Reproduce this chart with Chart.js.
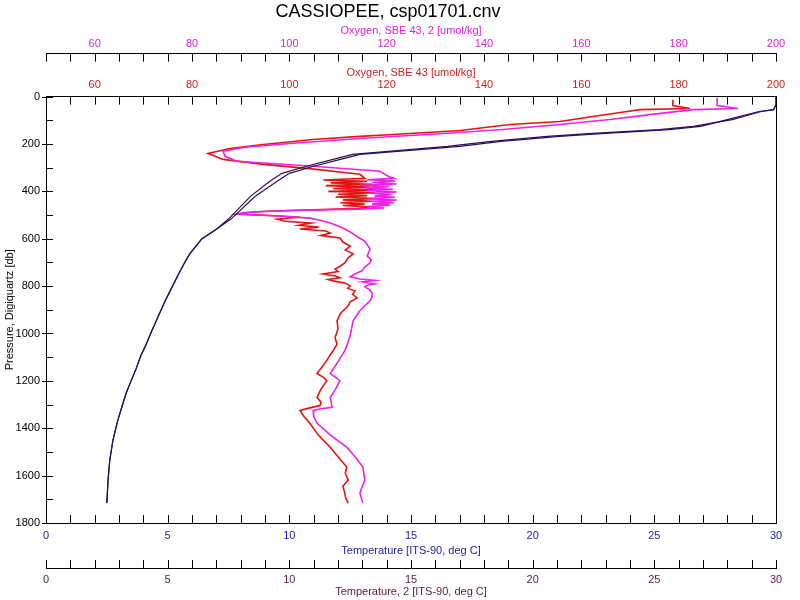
<!DOCTYPE html>
<html>
<head>
<meta charset="utf-8">
<script src="https://cdn.jsdelivr.net/npm/chart.js@4.4.1/dist/chart.umd.min.js"></script>
<style>
  html, body { margin: 0; padding: 0; background: #fff; }
  canvas { display: block; }
</style>
</head>
<body>
<canvas id="ctd" width="800" height="600"></canvas>
<script>
// tick labels
const pressureTicks = [0, 200, 400, 600, 800, 1000, 1200, 1400, 1600, 1800]
const oxygenTicks = [60, 80, 100, 120, 140, 160, 180, 200]
const tempTicks = [0, 5, 10, 15, 20, 25, 30]

// temperature profiles (deg C) vs pressure (db)
const tempPressure = [0, 34, 55, 63, 97, 126, 139, 156, 168, 189, 210, 244, 265, 294, 324, 357, 421, 517, 560, 601, 665, 700, 749, 800, 862, 930, 988, 1050, 1093, 1150, 1199, 1250, 1283, 1367, 1451, 1535, 1619, 1716]
const temperature = [30.0, 30.0, 29.9, 29.3, 28.0, 26.9, 25.6, 22.8, 21.1, 18.7, 17.0, 12.9, 12.1, 11.0, 10.0, 9.5, 8.6, 7.6, 7.0, 6.4, 5.9, 5.7, 5.45, 5.2, 4.9, 4.6, 4.35, 4.1, 3.9, 3.7, 3.5, 3.3, 3.2, 2.95, 2.75, 2.62, 2.55, 2.5]
const temperature2 = [30.0, 30.0, 29.9, 29.4, 28.2, 26.6, 25.2, 22.3, 20.6, 18.3, 16.5, 12.6, 11.8, 10.7, 9.7, 9.2, 8.4, 7.5, 7.0, 6.4, 5.9, 5.7, 5.45, 5.2, 4.9, 4.6, 4.35, 4.1, 3.9, 3.7, 3.5, 3.3, 3.2, 2.95, 2.75, 2.62, 2.55, 2.5]

// oxygen, SBE 43 (umol/kg)
const oxyPressure = [13, 38, 50, 55, 63, 84, 105, 118, 143, 160, 168, 181, 202, 219, 240, 265, 286, 303, 328, 345,
  352, 358, 364, 370, 376, 382, 388, 394, 400, 406, 412, 418, 424, 430, 436, 442, 448, 454, 460, 466, 471, 478,
  484, 490, 496, 502, 509, 517, 526, 534, 543, 551, 559, 567, 576, 586, 597, 614, 631, 648, 664, 683, 702, 715, 728, 738, 749, 757, 765, 772, 778, 788, 799, 810, 820, 835, 850, 866, 883, 915, 946, 980, 1018, 1045, 1072, 1120, 1169, 1185, 1199, 1235, 1270, 1290, 1304, 1315, 1325, 1350, 1379, 1430, 1480, 1520, 1564, 1590, 1619, 1645, 1674, 1695, 1716]
const oxygen = [178.8, 178.8, 182.3, 172.0, 169.4, 162.4, 155.6, 145.3, 135.1, 121.3, 114.5, 104.9, 94.6, 87.8, 83.3, 86.4, 94.6, 103.6, 114.5, 115.5,
  107.0, 116.0, 108.5, 117.0, 107.5, 116.5, 109.0, 118.0, 108.0, 117.5, 110.0, 116.0, 109.5, 118.0, 111.0, 117.0, 110.5, 115.5, 111.0, 116.5, 114.5, 105.0,
  95.0, 90.5, 89.2, 96.0, 102.2, 97.5, 99.1, 104.5, 102.0, 106.0, 102.2, 107.5, 108.4, 106.5, 110.4, 111.0, 112.5, 111.5, 113.1, 112.0, 111.4, 110.5, 109.4, 110.0, 106.9, 109.5, 110.4, 108.0, 109.0, 111.5, 112.5, 112.0, 113.5, 113.0, 113.9, 112.5, 112.1, 110.5, 109.8, 110.0, 109.4, 109.8, 109.0, 107.5, 105.7, 107.0, 107.7, 106.5, 105.7, 106.5, 106.3, 104.0, 102.2, 103.0, 104.2, 106.0, 108.4, 110.0, 111.8, 111.5, 112.1, 111.0, 111.4, 111.6, 112.1]

// oxygen, SBE 43, 2 (umol/kg)
const oxy2Pressure = [4, 38, 50, 55, 76, 97, 118, 139, 156, 177, 198, 214, 231, 252, 273, 294, 315, 336,
  345, 351, 357, 363, 369, 374, 380, 386, 391, 397, 403, 408, 414, 420, 425, 431, 437, 442, 448, 453, 458, 464, 470, 475,
  481, 488, 496, 504, 513, 523, 534, 546, 559, 572, 585, 598, 610, 626, 643, 658, 673, 688, 702, 720, 736, 748, 761, 770, 776, 782, 790, 796, 803, 816, 829, 845, 862, 883, 904, 925, 946, 978, 1009, 1040, 1072, 1120, 1169, 1185, 1199, 1235, 1270, 1290, 1312, 1318, 1325, 1350, 1379, 1430, 1480, 1520, 1564, 1590, 1619, 1645, 1674, 1695, 1716]
const oxygen2 = [187.9, 187.9, 192.2, 183.0, 174.1, 165.9, 155.6, 143.9, 131.6, 114.5, 100.1, 90.9, 86.4, 86.8, 89.2, 104.9, 118.6, 120.3,
  121.5, 116.0, 121.7, 117.0, 122.0, 114.5, 120.5, 115.5, 121.3, 116.0, 122.0, 116.6, 121.0, 117.5, 121.7, 116.0, 122.0, 116.6, 121.5, 117.0, 120.7, 116.0, 119.5, 114.5,
  100.0, 91.9, 89.2, 98.0, 104.2, 106.5, 108.4, 110.0, 111.4, 112.5, 113.5, 114.5, 115.5, 116.0, 116.6, 116.3, 116.0, 116.8, 116.6, 115.5, 114.9, 113.5, 112.5, 114.5, 117.6, 115.0, 117.5, 116.0, 115.5, 116.5, 117.0, 117.0, 116.6, 115.5, 114.5, 113.8, 113.1, 112.8, 112.5, 112.0, 111.4, 110.0, 108.4, 109.5, 110.4, 109.5, 108.4, 108.6, 108.8, 106.5, 104.9, 105.0, 105.7, 108.5, 111.8, 113.5, 115.1, 115.3, 115.5, 115.0, 114.5, 114.8, 115.1]

const RED = '#e41414'
const MAGENTA = '#ea22ea'
const NAVY = '#1e1070'
const PURPLE = '#3e0a40'

const pts = (xs, ps) => xs.map((v, i) => ({ x: v, y: ps[i] }))
const font = { family: 'Liberation Sans, Arial, sans-serif', size: 11 }

// draws the inward tick marks and the right edge of the plot box
const axisTicks = {
  id: 'axisTicks',
  afterDraw(chart) {
    const { ctx, chartArea, scales } = chart
    ctx.save()
    ctx.strokeStyle = '#000'
    ctx.lineWidth = 1
    ctx.beginPath()
    ctx.moveTo(Math.round(chartArea.right) + 0.5, chartArea.top)
    ctx.lineTo(Math.round(chartArea.right) + 0.5, chartArea.bottom)

    const topTicks = (s) => {
      for (let v = 50; v <= 200; v += 5) {
        const x = Math.round(s.getPixelForValue(v)) + 0.5
        ctx.moveTo(x, s.bottom); ctx.lineTo(x, s.bottom + 8)
      }
    }
    const bottomTicks = (s) => {
      for (let v = 0; v <= 30; v += 1) {
        const x = Math.round(s.getPixelForValue(v)) + 0.5
        ctx.moveTo(x, s.top); ctx.lineTo(x, s.top - 8)
      }
    }
    topTicks(scales.xO)
    topTicks(scales.xO2)
    bottomTicks(scales.xT)
    bottomTicks(scales.xT2)

    const y = scales.y
    for (let v = 0; v <= 1800; v += 100) {
      const py = Math.round(y.getPixelForValue(v)) + 0.5
      ctx.moveTo(y.right, py); ctx.lineTo(y.right + 7, py)
      if (v % 200 === 0) { ctx.moveTo(y.right - 4, py); ctx.lineTo(y.right, py) }
    }
    ctx.stroke()
    ctx.restore()
  }
}

const hAxis = (position, weight, min, max, ticks, color, title, height, labelPad, titlePad) => ({
  type: 'linear',
  position,
  weight,
  min,
  max,
  grid: { display: false, drawTicks: false },
  border: { display: true, color: '#000', width: 1 },
  ticks: { color, font, padding: labelPad, autoSkip: false, maxRotation: 0, callback: v => String(v) },
  title: { display: true, text: title, color, font, padding: titlePad },
  afterBuildTicks: s => { s.ticks = ticks.map(v => ({ value: v })) },
  afterFit: s => { s.height = height },
})

new Chart(document.getElementById('ctd'), {
  type: 'scatter',
  data: {
    datasets: [
      { label: 'Temperature', data: pts(temperature, tempPressure), xAxisID: 'xT', borderColor: NAVY, borderWidth: 1.2 },
      { label: 'Temperature, 2', data: pts(temperature2, tempPressure), xAxisID: 'xT2', borderColor: PURPLE, borderWidth: 1.2 },
      { label: 'Oxygen, SBE 43, 2', data: pts(oxygen2, oxy2Pressure), xAxisID: 'xO2', borderColor: MAGENTA, borderWidth: 1.6 },
      { label: 'Oxygen, SBE 43', data: pts(oxygen, oxyPressure), xAxisID: 'xO', borderColor: RED, borderWidth: 1.6 },
    ],
  },
  options: {
    responsive: false,
    animation: false,
    showLine: true,
    layout: { padding: { left: 0, right: 24, top: 0, bottom: 0 } },
    elements: {
      point: { radius: 0, hoverRadius: 0 },
      line: { tension: 0, fill: false },
    },
    plugins: {
      legend: { display: false },
      tooltip: { enabled: false },
      title: {
        display: true,
        text: 'CASSIOPEE, csp01701.cnv',
        color: '#000',
        font: { family: 'Liberation Sans, Arial, sans-serif', size: 18, weight: 'normal' },
        padding: { top: 1, bottom: 0 },
      },
    },
    scales: {
      y: {
        type: 'linear',
        position: 'left',
        reverse: true,
        min: 0,
        max: 1800,
        grid: { display: false, drawTicks: false },
        border: { display: true, color: '#000', width: 1 },
        ticks: { color: '#000', font, padding: 6, autoSkip: false, callback: v => String(v) },
        title: { display: true, text: 'Pressure, Digiquartz [db]', color: '#000', font, padding: { top: 3, bottom: 0 } },
        afterBuildTicks: s => { s.ticks = pressureTicks.map(v => ({ value: v })) },
        afterFit: s => { s.width = 46 },
      },
      xO: hAxis('top', 0, 50, 200, oxygenTicks, '#cc2222', 'Oxygen, SBE 43 [umol/kg]', 43, 5, { top: 13, bottom: 0 }),
      xO2: hAxis('top', 1, 50, 200, oxygenTicks, '#e020e0', 'Oxygen, SBE 43, 2 [umol/kg]', 31, 3, { top: 2, bottom: 0 }),
      xT: hAxis('bottom', 0, 0, 30, tempTicks, '#1c1ca8', 'Temperature [ITS-90, deg C]', 45, 6, { top: 0, bottom: 10 }),
      xT2: hAxis('bottom', 1, 0, 30, tempTicks, '#5a1848', 'Temperature, 2 [ITS-90, deg C]', 32, 5, { top: 0, bottom: 1 }),
    },
  },
  plugins: [axisTicks],
})
</script>
</body>
</html>
